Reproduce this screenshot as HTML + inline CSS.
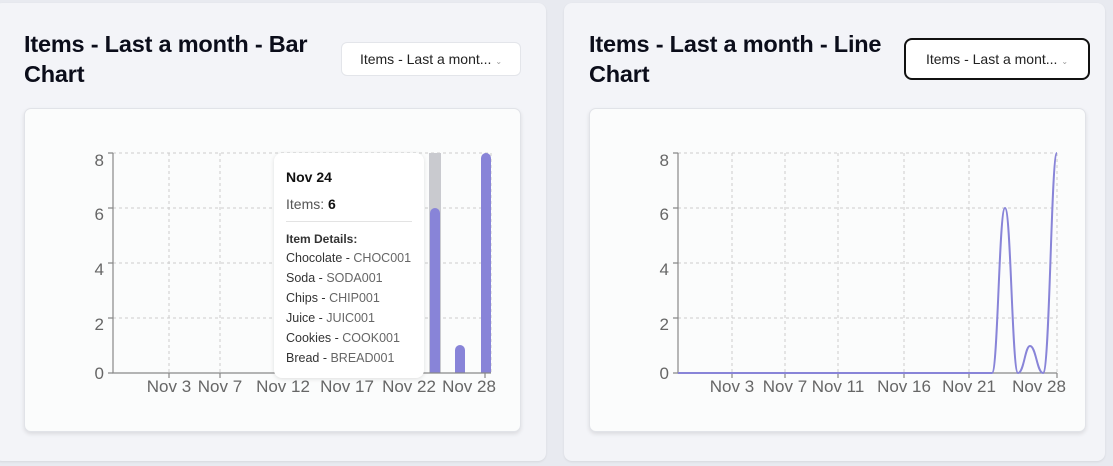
<!DOCTYPE html>
<html><head><meta charset="utf-8"><style>
body{margin:0;width:1113px;height:466px;background:#e8eaf0;font-family:"Liberation Sans",sans-serif;position:relative;overflow:hidden}
.card{position:absolute;top:3px;height:458px;background:#f3f4f8;border-radius:8px;box-shadow:0 1px 2px rgba(0,0,0,.08)}
.title{position:absolute;font-size:23.5px;font-weight:bold;color:#0b0d1a;line-height:30px;letter-spacing:-0.2px}
.dd{position:absolute;background:#fff;border:1px solid #e3e5ea;border-radius:6px;font-size:14px;color:#222;text-align:center;box-sizing:border-box}
.inner{position:absolute;top:108px;height:324px;background:#fbfcfc;border:1px solid #e1e3e8;border-radius:7px;box-shadow:0 2px 4px rgba(0,0,0,.1);box-sizing:border-box}
svg{position:absolute;left:0;top:0}
.tt{position:absolute;left:274px;top:153px;width:150px;height:225px;background:#fff;border-radius:8px;box-shadow:0 1px 4px rgba(0,0,0,.12);color:#111;box-sizing:border-box;padding-left:12px}
.tt div{position:absolute;left:12px;white-space:nowrap}
.r{font-size:12.5px;color:#333}.r span{color:#666}
</style></head><body>
<div class="card" style="left:-6px;width:552px"></div>
<div class="card" style="left:564px;width:541px"></div>
<div class="title" style="left:24px;top:29px">Items - Last a month - Bar<br>Chart</div>
<div class="title" style="left:589px;top:29px">Items - Last a month - Line<br>Chart</div>
<div class="dd" style="left:341px;top:42px;width:180px;height:34px;line-height:32px">Items - Last a mont... <span style="font-size:8px;color:#999">⌄</span></div>
<div class="dd" style="left:904px;top:38px;width:186px;height:42px;line-height:38px;border:2px solid #111;border-radius:8px">Items - Last a mont... <span style="font-size:8px;color:#999">⌄</span></div>
<div class="inner" style="left:24px;width:497px"></div>
<div class="inner" style="left:589px;width:497px"></div>
<svg width="1113" height="466" font-family="Liberation Sans, sans-serif">
<g stroke="#ccc" stroke-dasharray="3 3" stroke-width="1">
<line x1="113" x2="491" y1="153" y2="153"/><line x1="113" x2="491" y1="208" y2="208"/><line x1="113" x2="491" y1="263" y2="263"/><line x1="113" x2="491" y1="318" y2="318"/>
<line x1="169" x2="169" y1="153" y2="373"/><line x1="220" x2="220" y1="153" y2="373"/><line x1="283" x2="283" y1="153" y2="373"/><line x1="347" x2="347" y1="153" y2="373"/><line x1="409" x2="409" y1="153" y2="373"/><line x1="485" x2="485" y1="153" y2="373"/><line x1="491" x2="491" y1="153" y2="373"/>
<line x1="678" x2="1057" y1="153" y2="153"/><line x1="678" x2="1057" y1="208" y2="208"/><line x1="678" x2="1057" y1="263" y2="263"/><line x1="678" x2="1057" y1="318" y2="318"/>
<line x1="732" x2="732" y1="153" y2="373"/><line x1="785" x2="785" y1="153" y2="373"/><line x1="838" x2="838" y1="153" y2="373"/><line x1="904" x2="904" y1="153" y2="373"/><line x1="969" x2="969" y1="153" y2="373"/><line x1="1057" x2="1057" y1="153" y2="373"/>
</g>
<rect x="429" y="153" width="12" height="220" fill="#c9cacf"/>
<g fill="#8884d8">
<path d="M430 373V213a5 5 0 0 1 10 0V373z"/>
<path d="M455 373V350a5 5 0 0 1 10 0V373z"/>
<path d="M481 373V158a5 5 0 0 1 10 0V373z"/>
</g>
<g stroke="#888" stroke-width="1.2" fill="none">
<path d="M113 153V373H491"/><path d="M108 153h5M108 208h5M108 263h5M108 318h5M108 373h5M169 373v5M220 373v5M283 373v5M347 373v5M409 373v5M485 373v5"/>
<path d="M678 153V373H1057"/><path d="M673 153h5M673 208h5M673 263h5M673 318h5M673 373h5M732 373v5M785 373v5M838 373v5M904 373v5M969 373v5M1057 373v5"/>
</g>
<g fill="#666" font-size="17" text-anchor="end">
<text x="104" y="166">8</text><text x="104" y="220">6</text><text x="104" y="275">4</text><text x="104" y="330">2</text><text x="104" y="379">0</text>
<text x="669" y="166">8</text><text x="669" y="220">6</text><text x="669" y="275">4</text><text x="669" y="330">2</text><text x="669" y="379">0</text>
</g>
<g fill="#666" font-size="17" text-anchor="middle">
<text x="169" y="392">Nov 3</text><text x="220" y="392">Nov 7</text><text x="283" y="392">Nov 12</text><text x="347" y="392">Nov 17</text><text x="409" y="392">Nov 22</text><text x="469" y="392">Nov 28</text>
<text x="732" y="392">Nov 3</text><text x="785" y="392">Nov 7</text><text x="838" y="392">Nov 11</text><text x="904" y="392">Nov 16</text><text x="969" y="392">Nov 21</text><text x="1039" y="392">Nov 28</text>
</g>
<path d="M678 373H992C998 373 999 208 1005 208C1011 208 1012 373 1018 373C1024 373 1025 346 1030 346C1036 346 1037 373 1043 373C1050 373 1051 153 1057 153" fill="none" stroke="#8884d8" stroke-width="2"/>
</svg>
<div class="tt">
<div style="top:16px;font-size:14px;font-weight:bold">Nov 24</div>
<div style="top:43px;font-size:14px;color:#555">Items: <b style="color:#111">6</b></div>
<div style="top:68px;width:126px;border-top:1px solid #e3e3e3"></div>
<div style="top:79px;font-size:12px;font-weight:bold;color:#333">Item Details:</div>
<div class="r" style="top:98px">Chocolate - <span>CHOC001</span></div>
<div class="r" style="top:118px">Soda - <span>SODA001</span></div>
<div class="r" style="top:138px">Chips - <span>CHIP001</span></div>
<div class="r" style="top:158px">Juice - <span>JUIC001</span></div>
<div class="r" style="top:178px">Cookies - <span>COOK001</span></div>
<div class="r" style="top:198px">Bread - <span>BREAD001</span></div>
</div>
</body></html>
